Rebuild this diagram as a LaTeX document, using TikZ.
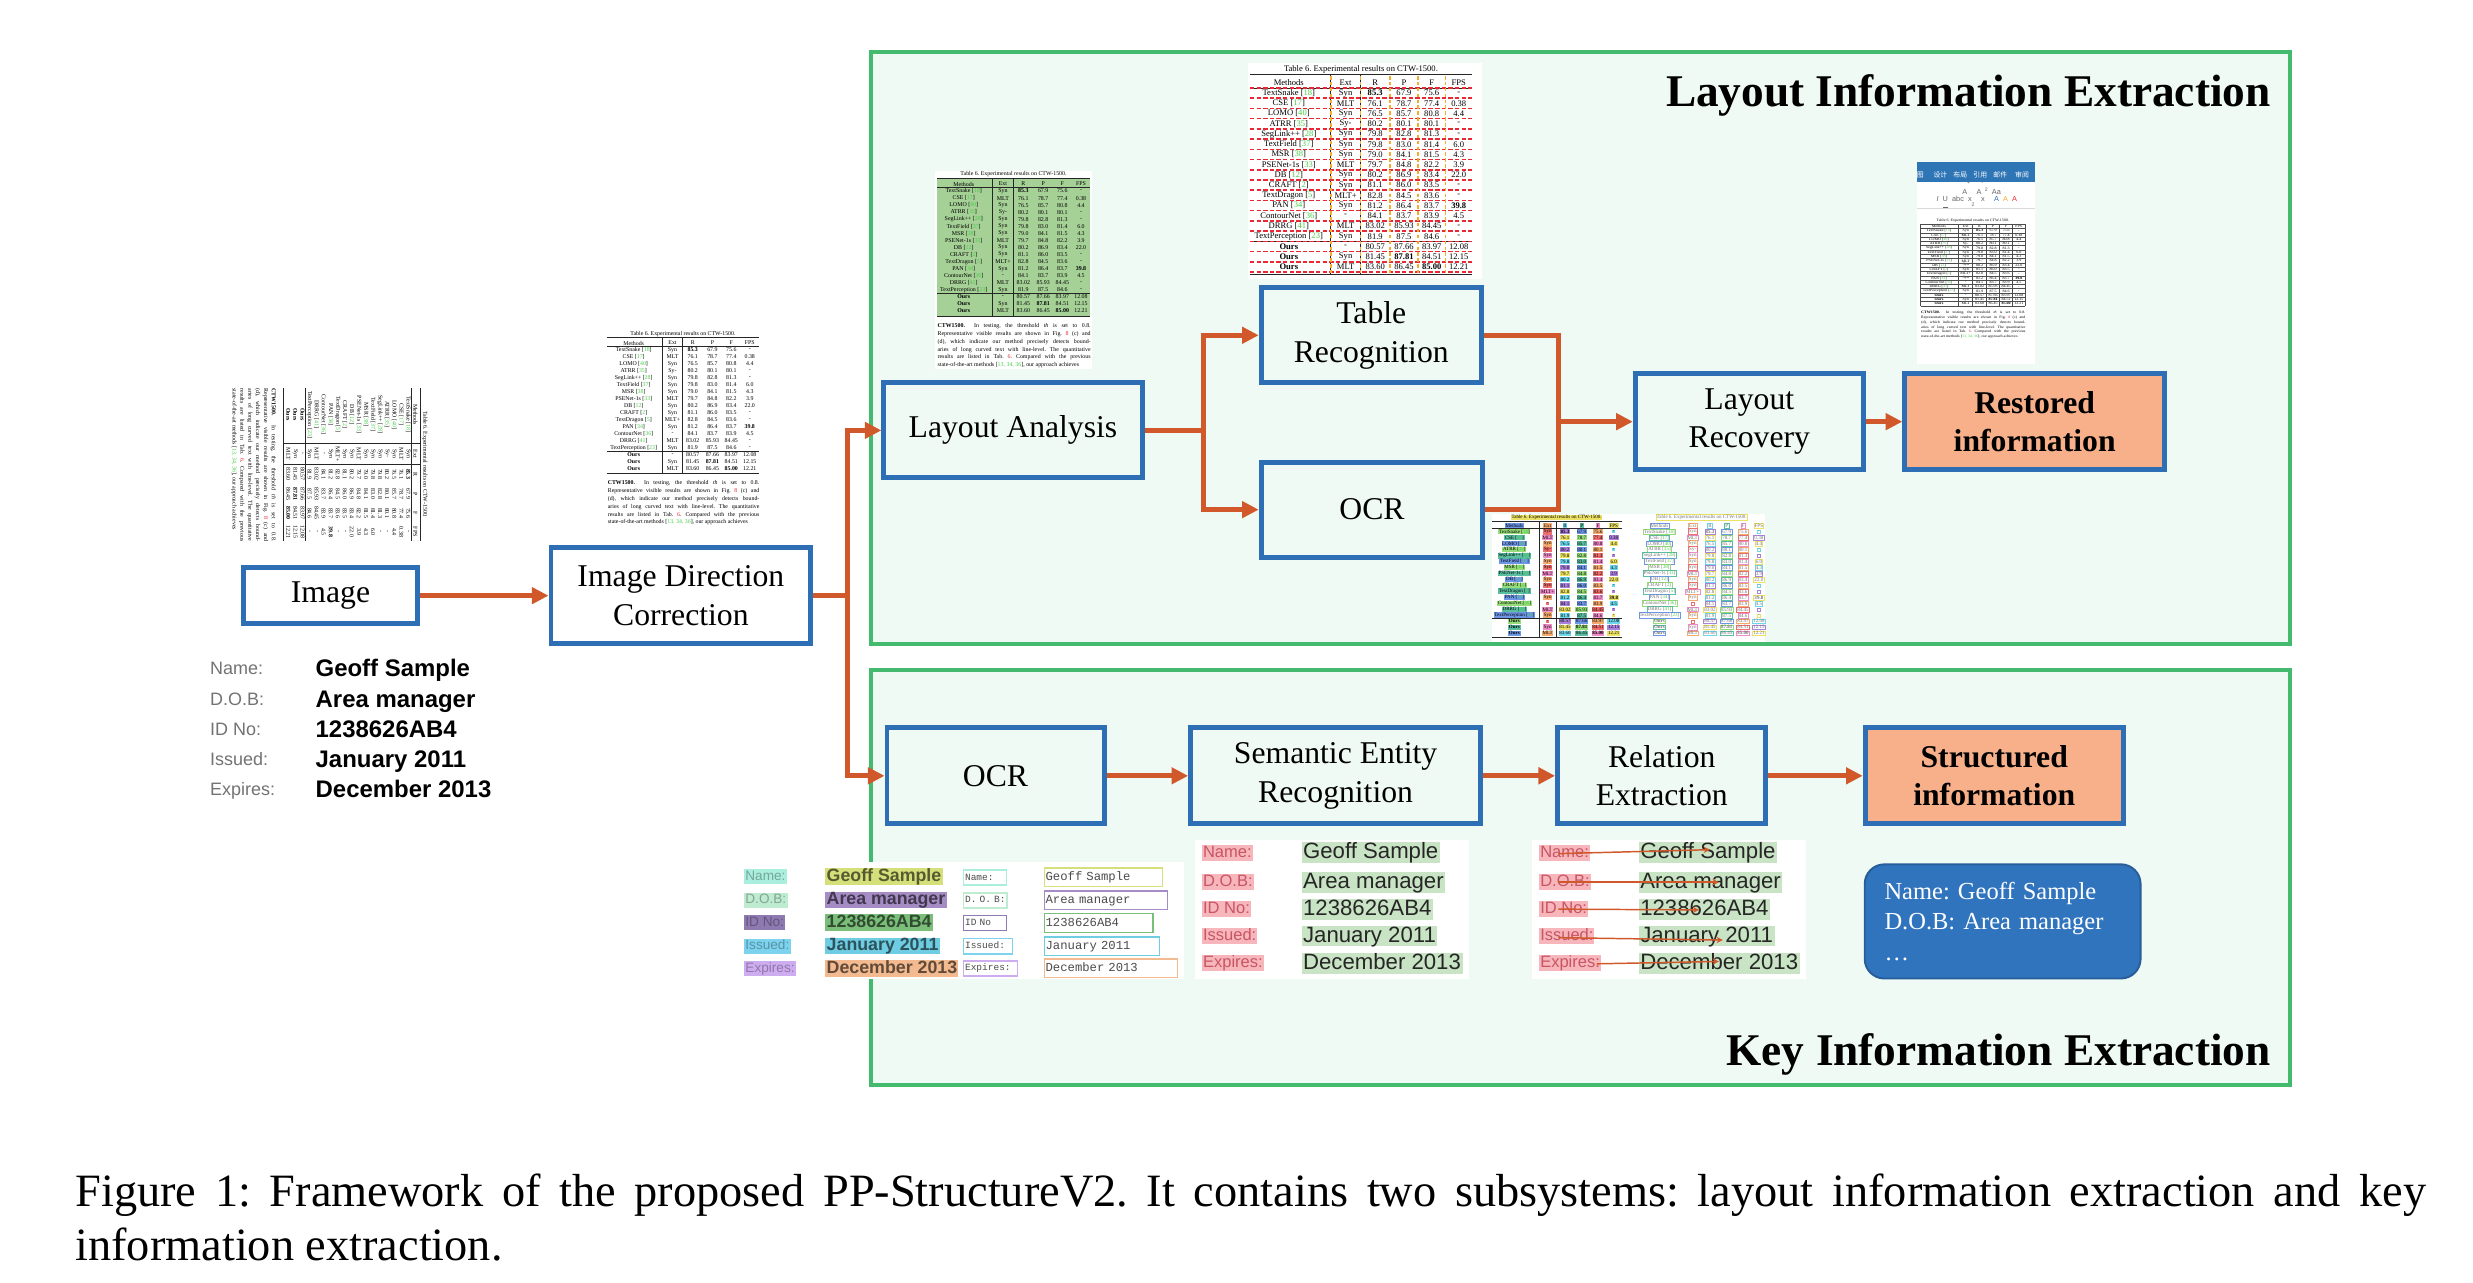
\documentclass[tikz,border=0pt]{standalone}
\usepackage{fontspec}
\setmainfont{Liberation Serif}
\setsansfont{Liberation Sans}
\setmonofont{Liberation Mono}
\newfontfamily\cjk{Noto Sans CJK SC}
\usetikzlibrary{arrows.meta}
\frenchspacing

\definecolor{boxblue}{RGB}{46,110,180}
\definecolor{flowred}{RGB}{208,88,42}
\definecolor{framegreen}{RGB}{68,186,110}
\definecolor{mint}{RGB}{240,250,245}
\definecolor{salmon}{RGB}{248,176,138}
\definecolor{infoblue}{RGB}{49,116,190}
\definecolor{refgreen}{RGB}{70,205,70}
\definecolor{tablegreen}{RGB}{165,208,150}
\definecolor{dashred}{RGB}{232,40,50}
\definecolor{dashorange}{RGB}{245,172,45}
\definecolor{ribbon}{RGB}{46,117,182}
\definecolor{serpink}{RGB}{247,182,187}
\definecolor{serpinktext}{RGB}{200,85,100}
\definecolor{sergreen}{RGB}{201,228,196}
\definecolor{gk1}{RGB}{170,238,222}
\definecolor{gk2}{RGB}{190,236,208}
\definecolor{gk3}{RGB}{142,122,176}
\definecolor{gk4}{RGB}{125,210,238}
\definecolor{gk5}{RGB}{206,172,240}
\definecolor{gv1}{RGB}{214,224,122}
\definecolor{gv2}{RGB}{166,140,196}
\definecolor{gv3}{RGB}{122,190,122}
\definecolor{gv4}{RGB}{110,205,226}
\definecolor{gv5}{RGB}{242,186,142}
\definecolor{ocr0}{RGB}{110,215,235}
\definecolor{ocr1}{RGB}{240,140,200}
\definecolor{ocr2}{RGB}{150,220,120}
\definecolor{ocr3}{RGB}{170,130,220}
\definecolor{ocr4}{RGB}{245,170,110}
\definecolor{ocr5}{RGB}{90,190,160}
\definecolor{ocr6}{RGB}{235,225,100}
\definecolor{ocr7}{RGB}{240,110,110}
\definecolor{ocr8}{RGB}{110,150,230}

\newlength{\px}
\setlength{\px}{0.3237pt}

\newcommand{\gr}[1]{[\textcolor{refgreen}{#1}]}
\newcommand{\ctwrows}{%
  Methods/Ext/R/P/F/FPS,
  TextSnake \gr{18}/Syn/\textbf{85.3}/67.9/75.6/-,
  CSE \gr{17}/MLT/76.1/78.7/77.4/0.38,
  LOMO \gr{40}/Syn/76.5/85.7/80.8/4.4,
  ATRR \gr{35}/Sy-/80.2/80.1/80.1/-,
  SegLink++ \gr{28}/Syn/79.8/82.8/81.3/-,
  TextField \gr{37}/Syn/79.8/83.0/81.4/6.0,
  MSR \gr{38}/Syn/79.0/84.1/81.5/4.3,
  PSENet-1s \gr{33}/MLT/79.7/84.8/82.2/3.9,
  DB \gr{12}/Syn/80.2/86.9/83.4/22.0,
  CRAFT \gr{2}/Syn/81.1/86.0/83.5/-,
  TextDragon \gr{5}/MLT+/82.8/84.5/83.6/-,
  PAN \gr{34}/Syn/81.2/86.4/83.7/\textbf{39.8},
  ContourNet \gr{36}/-/84.1/83.7/83.9/4.5,
  DRRG \gr{41}/MLT/83.02/85.93/84.45/-,
  TextPerception \gr{23}/Syn/81.9/87.5/84.6/-,
  \textbf{Ours}/-/80.57/87.66/83.97/12.08,
  \textbf{Ours}/Syn/81.45/\textbf{87.81}/84.51/12.15,
  \textbf{Ours}/MLT/83.60/86.45/\textbf{85.00}/12.21}

\newcommand{\ctwtable}{%
  \node[tcap] (ctwcap) at (71.5,3.6) {Table 6. Experimental results on CTW-1500.};
  \foreach \rowM/\rowE/\rowR/\rowP/\rowF/\rowS [count=\ri] in \ctwrows {
    \foreach \txt/\cx [count=\cj] in {\rowM/26, \rowE/61.85, \rowR/80.5, \rowP/98.65, \rowF/116.15, \rowS/133.2} {
      \pgfmathtruncatemacro{\cidx}{mod(3*\ri+5*\cj,9)}
      \node[tcell] (ctw-\ri-\cj) at (\cx,{12.3+(\ri-1)*6.45}) {\txt};
    }
  }
}
\newcommand{\ctwrules}{%
  \draw[trule] (1.5,7.3) -- (141.5,7.3);
  \draw[trule] (1.5,15.6) -- (141.5,15.6);
  \draw[trule] (1.5,112.3) -- (141.5,112.3);
  \draw[trule] (1.5,133) -- (141.5,133);
  \draw[trule] (52.5,7.3) -- (52.5,133);
  \draw[trule] (71.2,7.3) -- (71.2,133);
}
\newcommand{\ctwpara}{%
  \node[tpara] (ctwtext) at (1.5,139) {\textbf{CTW1500.}\ \ In testing, the threshold \textit{th} is set to 0.8.\linebreak
  Representative visible results are shown in Fig.~\textcolor{dashred}{8} (c) and\linebreak
  (d), which indicate our method precisely detects bound-\linebreak
  aries of long curved text with line-level. The quantitative\linebreak
  results are listed in Tab.~\textcolor{dashred}{6}. Compared with the previous\linebreak
  state-of-the-art methods [\textcolor{refgreen}{13, 34, 36}], our approach achieves};
}

\tikzset{
  subsys/.style={draw=framegreen, line width=0.8pt, fill=mint},
  systitle/.style={anchor=base east, inner sep=0pt, font=\bfseries\fontsize{9.26}{11}\selectfont},
  stage/.style={draw=boxblue, line width=1pt, fill=mint, align=center, inner sep=0pt,
    font=\fontsize{6.47}{7.87}\selectfont},
  result/.style={stage, fill=salmon, font=\bfseries\fontsize{6.47}{7.87}\selectfont},
  infobox/.style={draw=infoblue!80!black, line width=0.4pt, fill=infoblue, rounded corners=4pt,
    text=white, minimum width=174\px, minimum height=72\px, text width=149\px, align=left,
    font=\fontsize{5}{6.3}\selectfont},
  flow/.style={draw=flowred, line width=0.95pt, -{Triangle[length=3.4pt,width=3.3pt]}},
  link/.style={draw=flowred, line width=0.95pt},
  reline/.style={draw=flowred, line width=0.3pt, -{Stealth[length=1.3pt,width=1.3pt]}},
  tcap/.style={inner sep=0.2pt, font=\fontsize{1.75}{2}\selectfont},
  tcell/.style={inner sep=0.25pt, font=\fontsize{1.75}{2}\selectfont},
  tpara/.style={anchor=north west, inner sep=0pt, text width=45.3pt, align=justify,
    font=\fontsize{1.75}{2.33}\selectfont},
  trule/.style={draw=black!85, line width=0.2pt},
  tgrid/.style={draw=black!70, line width=0.15pt},
  rowdash/.style={draw=dashred, line width=0.3pt, dash pattern=on 0.9pt off 0.45pt},
  coldash/.style={draw=dashorange, line width=0.3pt, dash pattern=on 0.7pt off 0.5pt},
  ribbontab/.style={inner sep=0pt, text=white, font=\cjk\fontsize{1.4}{1.6}\selectfont},
  tool/.style={inner sep=0pt, text=black!60, font=\sffamily\fontsize{1.5}{1.7}\selectfont},
  cardkey/.style={anchor=base west, inner sep=0pt, text=black!55, font=\sffamily\fontsize{3.67}{4}\selectfont},
  cardval/.style={anchor=base west, inner sep=0pt, font=\sffamily\bfseries\fontsize{4.89}{5.5}\selectfont},
  okey/.style={anchor=west, inner xsep=0.8\px, inner ysep=0pt, minimum height=9.5\px,
    text height=2.05pt, text depth=0.55pt, font=\sffamily\fontsize{2.78}{3}\selectfont},
  oval/.style={anchor=west, inner xsep=0.8\px, inner ysep=0pt, minimum height=10.5\px,
    text height=2.7pt, text depth=0.72pt, font=\sffamily\bfseries\fontsize{3.63}{4}\selectfont},
  mkey/.style={anchor=west, draw, line width=0.25pt, inner xsep=0.8\px, inner ysep=0pt,
    minimum height=9.5\px, text height=1.45pt, text depth=0.4pt, align=left, text=black!70,
    font=\ttfamily\fontsize{1.94}{2.2}\selectfont},
  mval/.style={mkey, minimum height=11.8\px, text height=1.9pt, text depth=0.5pt,
    font=\ttfamily\fontsize{2.5}{2.8}\selectfont},
  skey/.style={anchor=west, fill=serpink, text=serpinktext, inner xsep=0.6\px, inner ysep=0pt,
    minimum height=9.5\px, text height=2.5pt, text depth=0.67pt, font=\sffamily\fontsize{3.37}{3.7}\selectfont},
  sval/.style={anchor=west, fill=sergreen, text=black!85, inner xsep=1\px, inner ysep=0pt,
    minimum height=13\px, text height=3.35pt, text depth=0.9pt, font=\sffamily\fontsize{4.53}{5}\selectfont},
  figcap/.style={anchor=north west, inner sep=0pt, text width=480pt, align=justify,
    font=\fontsize{9.46}{10.9}\selectfont}
}

\begin{document}
\begin{tikzpicture}[x=0.3237pt, y=-0.3237pt]
\useasboundingbox (0,0) rectangle (1560,809.3);
\fill[white] (0,0) rectangle (1560,809.3);

% the two subsystems
\draw[subsys] (549.5,33) rectangle (1444.5,406.5);
\draw[subsys] (549.5,422.7) rectangle (1444.5,684.5);
\node[systitle] (lietitle) at (1433,67.5) {Layout Information Extraction};
\node[systitle] (kietitle) at (1433,672) {Key Information Extraction};

% page thumbnails
\begin{scope}[shift={(270.5,243.6)}, rotate=-90, scale=0.69, transform shape]
  \ctwtable
  \ctwrules
  \ctwpara
\end{scope}
\begin{scope}[shift={(382,208)}, scale=0.683, transform shape]
  \ctwtable
  \ctwrules
  \ctwpara
\end{scope}
\begin{scope}[shift={(590,107.6)}, scale=0.69, transform shape]
  \fill[white] (0,0) rectangle (143,181);
  \fill[tablegreen] (1.5,7.3) rectangle (141.5,133);
  \ctwtable
  \ctwrules
  \ctwpara
\end{scope}
\begin{scope}[shift={(787,40)}]
  \fill[white] (0,0) rectangle (148,136);
  \ctwtable
  \ctwrules
  \foreach \ri in {1,...,19}
    \draw[rowdash] (1.5,{15.5+(\ri-1)*6.45}) -- (141.5,{15.5+(\ri-1)*6.45});
  \foreach \cx in {52.5,71.2,89.9,107.4,124.9}
    \draw[coldash] (\cx,8) -- (\cx,133);
\end{scope}

% word screenshot
\fill[white] (1209,102) rectangle (1284,229.5);
\fill[ribbon] (1209,102) rectangle (1284,114.6);
\foreach \tab/\tx [count=\ri] in {图/1211.4, 设计/1224, 布局/1236.6, 引用/1249.2, 邮件/1261.8, 审阅/1275.5}
  \node[ribbontab] (tab\ri) at (\tx,110.5) {\tab};
\node[tool] (tool1) at (1250,118.8) {A\textsuperscript{+}\ \ A\textsuperscript{-}\ \ \ Aa};
\node[tool] (tool2) at (1247,125.8) {\textit{I}\ \ \underline{U}\ \ abc\ \ x\textsubscript{2}\ \ x\textsuperscript{2}\ \ \textcolor{boxblue}{A}\ \ \textcolor{dashorange}{A}\ \ \textcolor{dashred}{A}};
\draw[black!15, line width=0.2pt] (1209,131.5) -- (1284,131.5);
\begin{scope}[shift={(1210.9,137.7)}, xscale=0.47, yscale=0.42, transform shape]
  \ctwtable
  \foreach \ri in {0,...,19}
    \draw[tgrid] (1.5,{9.1+\ri*6.45}) -- (141.5,{9.1+\ri*6.45});
  \foreach \cx in {1.5,52.5,71.2,89.9,107.4,124.9,141.5}
    \draw[tgrid] (\cx,9.1) -- (\cx,131.65);
  \ctwpara
\end{scope}

% ocr boxes on the table
\fill[white] (941,324.5) rectangle (1113.5,404.8);
\begin{scope}[shift={(940.1,324.4)}, scale=0.585, transform shape,
    tcell/.append style={fill=ocr\cidx}, tcap/.append style={fill=ocr6}]
  \ctwtable
  \ctwrules
\end{scope}
\begin{scope}[shift={(1031.6,324.4)}, scale=0.585, transform shape,
    tcell/.append style={draw=ocr\cidx, line width=0.12pt, text=black!55},
    tcap/.append style={draw=ocr6, line width=0.12pt, text=black!55}]
  \ctwtable
\end{scope}

% the card
\foreach \lab/\val/\yy [count=\ri] in {Name:/Geoff Sample/421.5, D.O.B:/Area manager/441, ID No:/1238626AB4/459.7, Issued:/January 2011/478.5, Expires:/December 2013/497.6} {
  \node[cardkey] (ck\ri) at (132,{\yy+4.1}) {\lab};
  \node[cardval] (cv\ri) at (198.5,{\yy+5.4}) {\val};
}

% ocr result
\fill[white] (465.5,543.6) rectangle (746.8,617.5);
\foreach \lab/\val/\kc/\vc/\yy [count=\ri] in {Name:/Geoff Sample/gk1/gv1/553.1, D.O.B:/Area manager/gk2/gv2/567.8, ID No:/1238626AB4/gk3/gv3/582.1, Issued:/January 2011/gk4/gv4/596.8, Expires:/December 2013/gk5/gv5/610.9} {
  \node[okey, fill=\kc, text=\kc!70!black] (ok\ri) at (468.8,\yy) {\lab};
  \node[oval, fill=\vc, text=\vc!40!black] (ov\ri) at (520.1,\yy) {\val};
}
\foreach \lab/\val/\kc/\vc/\kw/\vw/\yy [count=\ri] in {Name:/Geoff Sample/gk1/gv1/25.1/73/553.5, D. O. B:/Area manager/gk2/gv2/25.7/76.2/568, ID No/1238626AB4/gk3/gv3/25.1/66.9/582.3, Issued:/January 2011/gk4/gv4/28.9/71.1/597, Expires:/December 2013/gk5/gv5/32.5/82.2/610.9} {
  \node[mkey, draw=\kc, text width=\kw\px] (mk\ri) at (607.6,\yy) {\lab};
  \node[mval, draw=\vc, text width=\vw\px] (mv\ri) at (658.4,\yy) {\val};
}

% ser and re results
\foreach \dx/\nm in {0/s, 212.7/r} {
  \fill[white] ({754+\dx},530) rectangle ({926.5+\dx},617.5);
  \foreach \lab/\val/\yy [count=\ri] in {Name:/Geoff Sample/538, D.O.B:/Area manager/556.5, ID No:/1238626AB4/573.5, Issued:/January 2011/590.5, Expires:/December 2013/607.6} {
    \node[skey] (\nm k\ri) at ({757.7+\dx},\yy) {\lab};
    \node[sval] (\nm v\ri) at ({820.4+\dx},\yy) {\val};
  }
}
\foreach \ri/\ax/\ay/\bx/\by in {1/12.6/0.5/45.6/-2, 2/12.6/0/51.2/0, 3/12.6/0/38.7/0.5, 4/12.6/1/53.7/2.5, 5/36.8/0.4/51.2/-1.1}
  \draw[reline] ([shift={(\ax,\ay)}]rk\ri.west) -- ([shift={(\bx,\by)}]rv\ri.west);

% stages
\node[stage, fill=white, minimum width=109.9\px, minimum height=35.5\px] (img) at (208.5,375.75) {Image};
\node[stage, fill=white, minimum width=163.9\px, minimum height=60.4\px] (idc) at (429.5,375.75) {Image Direction\\Correction};
\node[stage, minimum width=162.9\px, minimum height=59.9\px] (la) at (639,271.5) {Layout Analysis};
\node[stage, minimum width=138.9\px, minimum height=59.9\px] (tr) at (865,211.5) {Table\\Recognition};
\node[stage, minimum width=139.9\px, minimum height=59.9\px] (ocrt) at (865.5,321.5) {OCR};
\node[stage, minimum width=143.9\px, minimum height=60.9\px] (lr) at (1103.5,266) {Layout\\Recovery};
\node[result, minimum width=163.9\px, minimum height=60.9\px] (rest) at (1283.5,266) {Restored\\information};
\node[stage, minimum width=136.9\px, minimum height=60.4\px] (ocrk) at (628,489.4) {OCR};
\node[stage, minimum width=182.9\px, minimum height=60.4\px] (ser) at (842.5,489.4) {Semantic Entity\\Recognition};
\node[stage, minimum width=131.4\px, minimum height=60.4\px] (rel) at (1048.25,489.4) {Relation\\Extraction};
\node[result, minimum width=162.9\px, minimum height=60.4\px] (sinfo) at (1258,489.4) {Structured\\information};
\node[infobox] (kvbox) at (1263.3,581.25) {Name: Geoff Sample\\D.O.B: Area manager\\\dots};

% connectors
\coordinate (split1) at ([shift={(21.5,0)}]idc.east);
\coordinate (split2) at ([shift={(37,0)}]la.east);
\coordinate (merge1) at (983,266);
\draw[flow] (img.east) -- (idc.west);
\draw[link] (idc.east) -- (split1);
\draw[flow] (split1) |- (la.west);
\draw[flow] (split1) |- (ocrk.west);
\draw[link] (la.east) -- (split2);
\draw[flow] (split2) |- (tr.west);
\draw[flow] (split2) |- (ocrt.west);
\draw[link] (tr.east) -| (merge1) |- (ocrt.east);
\draw[flow] (merge1) -- (lr.west);
\draw[flow] (lr.east) -- (rest.west);
\draw[flow] (ocrk.east) -- (ser.west);
\draw[flow] (ser.east) -- (rel.west);
\draw[flow] (rel.east) -- (sinfo.west);

\node[figcap] (figcap) at (47,740) {Figure 1: Framework of the proposed PP-StructureV2. It contains two subsystems: layout information extraction and key\linebreak information extraction.};
\end{tikzpicture}
\end{document}
